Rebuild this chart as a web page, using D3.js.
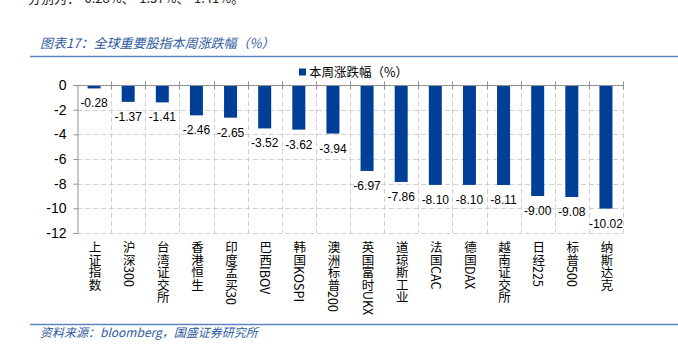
<!DOCTYPE html>
<html><head><meta charset="utf-8">
<script src="https://cdn.jsdelivr.net/npm/d3@7/dist/d3.min.js"></script>
<style>body{margin:0;background:#fff}svg{display:block}</style>
</head><body>
<script>
const categories = ["上证指数","沪深300","台湾证交所","香港恒生","印度孟买30","巴西IBOV","韩国KOSPI","澳洲标普200","英国富时UKX","道琼斯工业","法国CAC","德国DAX","越南证交所","日经225","标普500","纳斯达克"];
const values = [-0.28,-1.37,-1.41,-2.46,-2.65,-3.52,-3.62,-3.94,-6.97,-7.86,-8.10,-8.10,-8.11,-9.00,-9.08,-10.02];
const yTicks = [0,-2,-4,-6,-8,-10,-12];
const seriesName = "本周涨跌幅（%）";
const title = "图表17：全球重要股指本周涨跌幅（%）";
const source = "资料来源：bloomberg，国盛证券研究所";
const topLine = "分别为：-0.28%、-1.37%、-1.41%。";

const W = 678, H = 346;
const svg = d3.select("body").append("svg").attr("width", W).attr("height", H);
const m = {left: 77, right: 623, top: 85, bottom: 233};
const x = d3.scaleBand().domain(categories).range([m.left, m.right]).paddingInner(0).paddingOuter(0);
const y = d3.scaleLinear().domain([0, -12]).range([m.top, m.bottom]);
const blue = "#003f98";
const grid = "#d0d0d0";

// cut-off line of body text at top
svg.append("text").attr("x", 28).attr("y", 3).attr("font-family", "Noto Sans CJK SC").attr("font-size", 13).attr("fill", "#222").text(topLine);

// title
svg.append("text").attr("x", 40).attr("y", 48).attr("font-family", "Noto Sans CJK SC").attr("font-style", "italic")
  .attr("font-size", 13).attr("fill", "#2e5a9e").text(title);
svg.append("line").attr("x1", 30).attr("x2", 678).attr("y1", 56.5).attr("y2", 56.5).attr("stroke", "#5b86c5").attr("stroke-width", 1.5);
svg.append("line").attr("x1", 30).attr("x2", 678).attr("y1", 324.5).attr("y2", 324.5).attr("stroke", "#5b86c5").attr("stroke-width", 1.5);
svg.append("text").attr("x", 40).attr("y", 337).attr("font-family", "Noto Sans CJK SC").attr("font-style", "italic")
  .attr("font-size", 12).attr("fill", "#2e5a9e").text(source);

// horizontal grid
svg.append("g").selectAll("line").data(yTicks.filter(d => d !== 0)).join("line")
  .attr("x1", m.left).attr("x2", m.right)
  .attr("y1", d => Math.round(y(d)) + 0.5).attr("y2", d => Math.round(y(d)) + 0.5)
  .attr("stroke", grid).attr("stroke-dasharray", "5,3");
// vertical grid
const bounds = categories.map(c => x(c)).concat([m.right]).slice(1);
svg.append("g").selectAll("line").data(bounds).join("line")
  .attr("x1", d => Math.round(d) + 0.5).attr("x2", d => Math.round(d) + 0.5)
  .attr("y1", m.top).attr("y2", m.bottom)
  .attr("stroke", grid).attr("stroke-dasharray", "5,3");

// bars
svg.append("g").selectAll("rect").data(values).join("rect")
  .attr("x", (d, i) => x(categories[i]) + x.bandwidth() / 2 - 6.5)
  .attr("width", 13)
  .attr("y", y(0))
  .attr("height", d => y(d) - y(0))
  .attr("fill", blue);

// zero axis line with ticks
const zeroY = Math.round(y(0)) + 0.5;
svg.append("line").attr("x1", m.left).attr("x2", m.right).attr("y1", zeroY).attr("y2", zeroY).attr("stroke", "#909090");
svg.append("g").selectAll("line").data(bounds).join("line")
  .attr("x1", d => Math.round(d) + 0.5).attr("x2", d => Math.round(d) + 0.5)
  .attr("y1", zeroY - 4).attr("y2", zeroY + 4).attr("stroke", "#909090");

// y axis
const yAxis = d3.axisLeft(y).tickValues(yTicks).tickSize(4).tickPadding(7).tickFormat(d3.format("d"));
const ga = svg.append("g").attr("transform", `translate(${m.left + 0.5},0)`).call(yAxis);
ga.select(".domain").attr("stroke", "#909090");
ga.selectAll(".tick line").attr("stroke", "#909090");
ga.selectAll(".tick text").attr("font-family", "Liberation Sans, Arial").attr("font-size", 14).attr("fill", "#000")
  .text(d => d < 0 ? "-" + Math.abs(d) : d);

// value labels
svg.append("g").selectAll("text").data(values).join("text")
  .attr("x", (d, i) => x(categories[i]) + x.bandwidth() / 2)
  .attr("y", d => y(d) + 19)
  .attr("text-anchor", "middle")
  .attr("font-family", "Liberation Sans, Arial").attr("font-size", 12).attr("fill", "#000")
  .text(d => d.toFixed(2));

// category labels (vertical)
svg.append("g").selectAll("text").data(categories).join("text")
  .attr("x", d => x(d) + x.bandwidth() / 2 + 1)
  .attr("y", 241)
  .style("writing-mode", "vertical-rl")
  .attr("font-family", "Noto Sans CJK SC").attr("font-size", 12.5).attr("fill", "#000")
  .text(d => d);

// legend
svg.append("rect").attr("x", 299).attr("y", 68.5).attr("width", 7).attr("height", 7).attr("fill", blue);
svg.append("text").attr("x", 309).attr("y", 77).attr("font-family", "Noto Sans CJK SC").attr("font-size", 12.5).attr("fill", "#000").text(seriesName);
</script>
</body></html>
